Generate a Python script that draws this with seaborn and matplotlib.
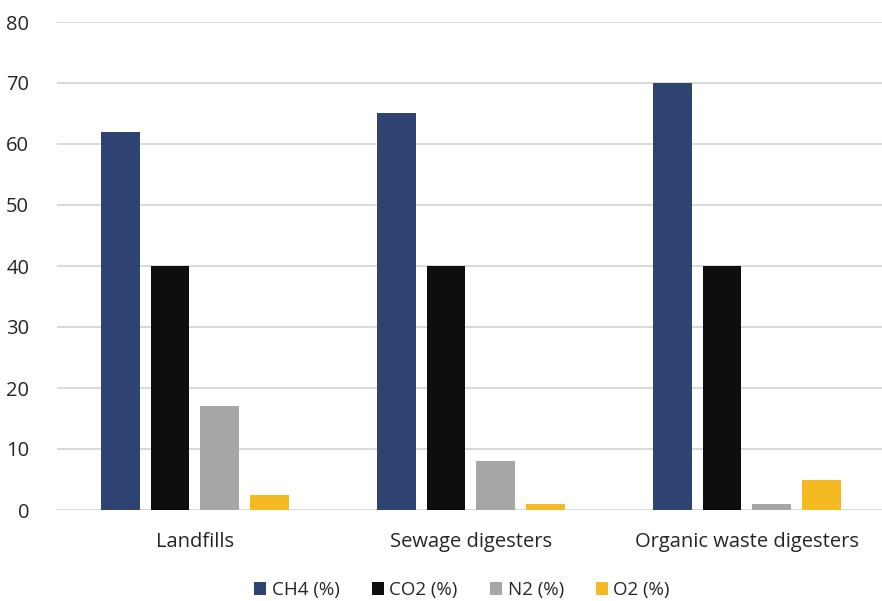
import matplotlib
matplotlib.use("Agg")
import matplotlib.pyplot as plt
import seaborn as sns
import pandas as pd

# Typical biogas composition by source
sources = ["Landfills", "Sewage digesters", "Organic waste digesters"]
gases = ["CH4 (%)", "CO2 (%)", "N2 (%)", "O2 (%)"]
ch4 = [62, 65, 70]
co2 = [40, 40, 40]
n2 = [17, 8, 1]
o2 = [2.5, 1, 5]
y_ticks = [0, 10, 20, 30, 40, 50, 60, 70, 80]

colors = ["#2e4372", "#0e0e0e", "#a6a6a6", "#f5b922"]

rows = []
for gas, vals in zip(gases, [ch4, co2, n2, o2]):
    for src, v in zip(sources, vals):
        rows.append({"Source": src, "Gas": gas, "Value": v})
df = pd.DataFrame(rows)

sns.set_theme(style="white")
plt.rcParams["font.family"] = ["Open Sans", "DejaVu Sans"]

fig = plt.figure(figsize=(8.82, 6.01), dpi=100)
ax = fig.add_axes([57 / 882, 91 / 601, 1 - 57 / 882, 488 / 601])

sns.barplot(data=df, x="Source", y="Value", hue="Gas", order=sources,
            hue_order=gases, palette=colors, width=0.72, gap=0.22,
            saturation=1, linewidth=0, ax=ax, legend=True, zorder=3)

ax.set_ylim(0, 80)
ax.set_xlim(-0.5, 2.49)
ax.set_yticks(y_ticks)
ax.set_yticklabels([str(t) for t in y_ticks], fontsize=14.5, color="#262626")
ax.tick_params(axis="x", labelsize=14.5, labelcolor="#262626", length=0, pad=16)
ax.tick_params(axis="y", length=0, pad=20)
ax.yaxis.grid(True, color="#d9d9d9", linewidth=1.4, zorder=0)
ax.set_axisbelow(True)
for s in ax.spines.values():
    s.set_visible(False)
ax.set_xlabel("")
ax.set_ylabel("")

handles, labels = ax.get_legend_handles_labels()
ax.legend(handles, labels, loc="center", bbox_to_anchor=(462 / 882, 11 / 601),
          bbox_transform=fig.transFigure, ncol=4, frameon=False, fontsize=13.5,
          handlelength=0.65, handleheight=0.65, handletextpad=0.3,
          columnspacing=1.7, labelcolor="#262626")

fig.savefig("out.png", dpi=100, facecolor="white")
